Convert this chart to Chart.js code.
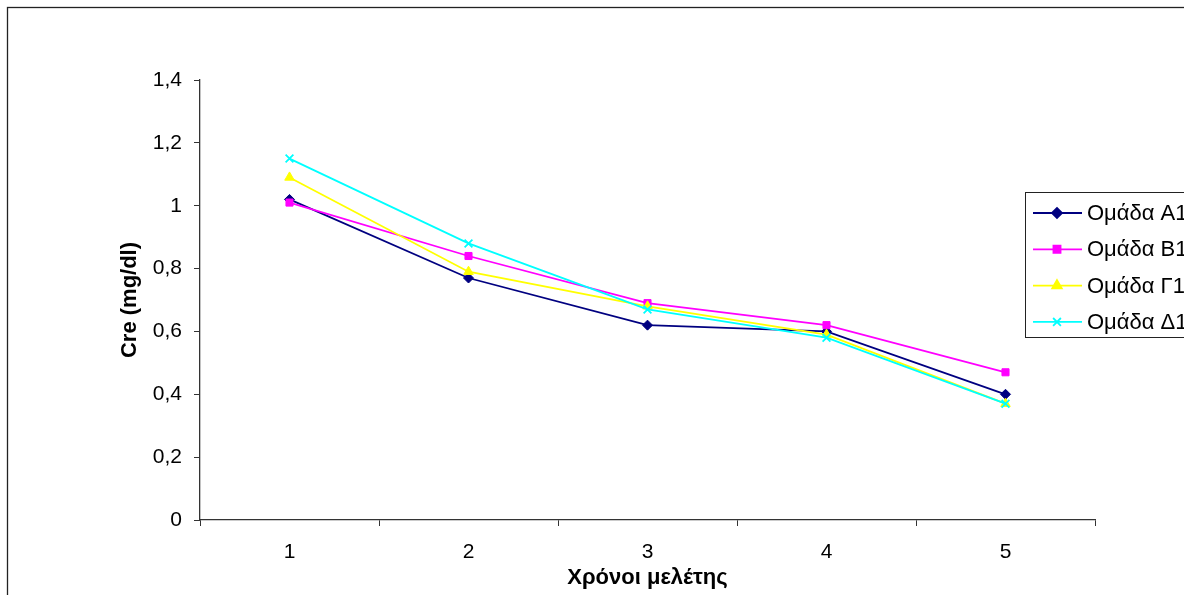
<!DOCTYPE html>
<html>
<head>
<meta charset="utf-8">
<script src="https://cdn.jsdelivr.net/npm/chart.js@4/dist/chart.umd.min.js"></script>
<style>
  html, body { margin: 0; padding: 0; background: #fff; }
  #wrap { width: 1184px; height: 595px; }
</style>
</head>
<body>
<div id="wrap"><canvas id="creChart" width="1184" height="595"></canvas></div>
<script>
const years = ['1', '2', '3', '4', '5'];
const groupA1 = [1.02, 0.77, 0.62, 0.60, 0.40];
const groupB1 = [1.01, 0.84, 0.69, 0.62, 0.47];
const groupG1 = [1.09, 0.79, 0.68, 0.59, 0.37];
const groupD1 = [1.15, 0.88, 0.67, 0.58, 0.37];
const groupNames = ['Ομάδα Α1', 'Ομάδα Β1', 'Ομάδα Γ1', 'Ομάδα Δ1'];

const FONT = 'Liberation Sans, Arial, sans-serif';

function series(label, data, color, shape, radius, order) {
  return {
    label,
    data,
    borderColor: color,
    backgroundColor: color,
    borderWidth: 1.8,
    pointStyle: shape,
    pointRadius: radius,
    pointBorderWidth: shape === 'crossRot' ? 1.8 : 1,
    pointBorderColor: color,
    pointBackgroundColor: color,
    tension: 0,
    fill: false,
    order
  };
}

// outer frame around the chart object
const framePlugin = {
  id: 'frame',
  beforeDraw(chart) {
    const ctx = chart.ctx;
    ctx.save();
    ctx.fillStyle = '#fff';
    ctx.fillRect(0, 0, chart.width, chart.height);
    ctx.strokeStyle = '#222';
    ctx.lineWidth = 1.3;
    ctx.strokeRect(7.5, 7.5, 1400, 800);
    ctx.restore();
  }
};

// boxed legend on the right, series in their own order
const boxLegend = {
  id: 'boxLegend',
  afterDraw(chart) {
    const ctx = chart.ctx;
    const left = 1025, top = 192, rowGap = 36.3;
    ctx.save();
    ctx.strokeStyle = '#222';
    ctx.lineWidth = 1;
    ctx.strokeRect(left + 0.5, top + 0.5, 400, 145);
    ctx.font = '22px ' + FONT;
    ctx.textBaseline = 'middle';
    chart.data.datasets.forEach((ds, i) => {
      const y = top + 21 + i * rowGap;
      ctx.strokeStyle = ds.borderColor;
      ctx.lineWidth = 1.8;
      ctx.beginPath();
      ctx.moveTo(1033, y);
      ctx.lineTo(1082, y);
      ctx.stroke();
      ctx.fillStyle = ds.borderColor;
      Chart.helpers.drawPoint(ctx, {
        pointStyle: ds.pointStyle,
        radius: ds.pointRadius,
        borderWidth: ds.pointBorderWidth,
        rotation: 0
      }, 1057, y);
      ctx.fillStyle = '#000';
      ctx.fillText(ds.label, 1087, y + 1);
    });
    ctx.restore();
  }
};

const ctx = document.getElementById('creChart').getContext('2d');
new Chart(ctx, {
  type: 'line',
  data: {
    labels: years,
    datasets: [
      series(groupNames[0], groupA1, '#000080', 'rectRot', 5, 3),
      series(groupNames[1], groupB1, '#FF00FF', 'rect', 5, 2),
      series(groupNames[2], groupG1, '#FFFF00', 'triangle', 5.5, 1),
      series(groupNames[3], groupD1, '#00FFFF', 'crossRot', 5.5, 0)
    ]
  },
  options: {
    responsive: false,
    animation: false,
    devicePixelRatio: 1,
    layout: { padding: { left: 113, top: 80, right: 89, bottom: 0 } },
    plugins: {
      legend: { display: false },
      tooltip: { enabled: false }
    },
    scales: {
      x: {
        offset: true,
        grid: {
          offset: true,
          drawOnChartArea: false,
          drawTicks: true,
          tickLength: 6,
          color: '#333'
        },
        border: { display: true, color: '#333', width: 1.3 },
        ticks: {
          color: '#000',
          font: { family: FONT, size: 21 },
          padding: 14,
          maxRotation: 0
        },
        title: {
          display: true,
          text: 'Χρόνοι μελέτης',
          color: '#000',
          font: { family: FONT, size: 22, weight: 'bold' },
          padding: { top: 0, bottom: 4 }
        },
        afterFit(scale) { scale.height = 75; }
      },
      y: {
        min: 0,
        max: 1.4,
        grid: {
          drawOnChartArea: false,
          drawTicks: true,
          tickLength: 6,
          color: '#333'
        },
        border: { display: true, color: '#333', width: 1.3 },
        ticks: {
          stepSize: 0.2,
          color: '#000',
          font: { family: FONT, size: 21 },
          padding: 12,
          callback: v => String(Math.round(v * 10) / 10).replace('.', ',')
        },
        title: {
          display: true,
          text: 'Cre (mg/dl)',
          color: '#000',
          font: { family: FONT, size: 22, weight: 'bold' },
          padding: { top: 4, bottom: 4 }
        },
        afterFit(scale) { scale.width = 87; }
      }
    }
  },
  plugins: [framePlugin, boxLegend]
});
</script>
</body>
</html>
